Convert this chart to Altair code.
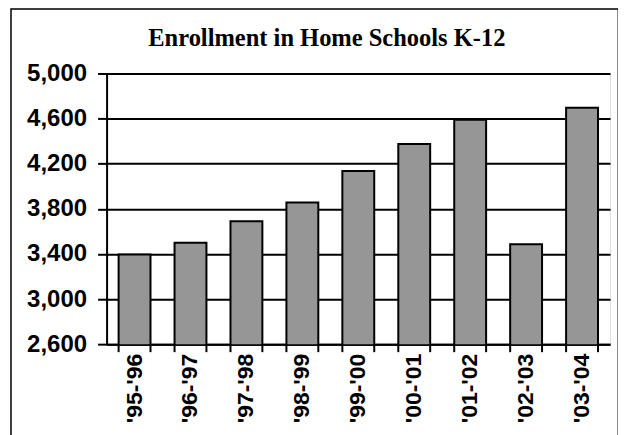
import altair as alt
import pandas as pd

years = ["'95-'96", "'96-'97", "'97-'98", "'98-'99", "'99-'00",
         "'00-'01", "'01-'02", "'02-'03", "'03-'04"]
enrollment = [3395, 3500, 3690, 3855, 4135, 4375, 4590, 3485, 4695]
y_ticks = [2600, 3000, 3400, 3800, 4200, 4600, 5000]
title_text = "Enrollment in Home Schools K-12"

df = pd.DataFrame({"year": years, "enrollment": enrollment})

W, H = 504, 271
LW = 2

xscale = alt.Scale(paddingInner=0.43, paddingOuter=0.215)

bars = alt.Chart(df).mark_bar(
    color="#969696", stroke="black", strokeWidth=LW, clip=True
).encode(
    x=alt.X("year:N", sort=years, scale=xscale,
            axis=alt.Axis(title=None, labelAngle=270, labelFont="Arial",
                          labelFontWeight="bold", labelFontSize=23,
                          labelColor="black", ticks=False, labelPadding=9,
                          domainColor="black", domainWidth=LW,
                          labelLimit=200)),
    y=alt.Y("enrollment:Q",
            scale=alt.Scale(domain=[2600, 5000], nice=False, zero=False),
            axis=alt.Axis(title=None, values=y_ticks, format=",.0f",
                          labelFont="Arial", labelFontWeight="bold",
                          labelFontSize=24, labelColor="black",
                          tickColor="black", tickSize=9, tickWidth=LW,
                          labelPadding=11, domainColor="black",
                          domainWidth=LW, gridColor="black",
                          gridWidth=LW, gridOpacity=1)),
)

tick0 = alt.Chart(df).mark_rule(color="black", strokeWidth=LW).encode(
    x=alt.X("year:N", sort=years, scale=xscale, bandPosition=0),
    y=alt.value(H), y2=alt.value(H + 8),
)
tick1 = alt.Chart(df).mark_rule(color="black", strokeWidth=LW).encode(
    x=alt.X("year:N", sort=years, scale=xscale, bandPosition=1),
    y=alt.value(H), y2=alt.value(H + 8),
)

border = alt.Chart(df.head(1)).mark_rect(
    fillOpacity=0, stroke="black", strokeWidth=1.5, clip=False
).encode(
    x=alt.value(-95.7), x2=alt.value(512.3),
    y=alt.value(-64.5), y2=alt.value(420),
)

title = alt.Chart(pd.DataFrame({"t": [title_text]})).mark_text(
    font="Liberation Serif", fontSize=24.5, fontWeight="bold", color="black",
    align="center", baseline="alphabetic"
).encode(
    text="t:N", x=alt.value(W / 2 - 31.5), y=alt.value(-27.3),
)

chart = alt.layer(bars, tick0, tick1, border, title).properties(
    width=W, height=H,
    autosize=alt.AutoSizeParams(type="none"),
    padding={"left": 98.7, "top": 65.3, "right": 8, "bottom": 91},
).configure_view(stroke=None).configure(background="white")

chart.save("out.html", embed_options={"renderer": "svg", "actions": False})
